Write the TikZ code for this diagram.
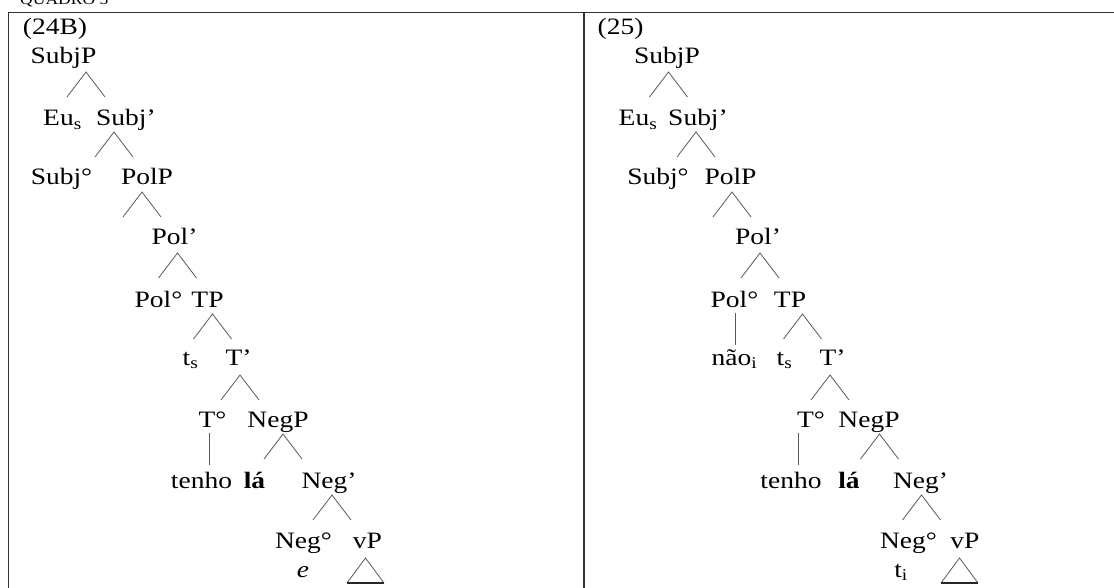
\documentclass[tikz,border=0pt]{standalone}
\usepackage{fontspec}
\setmainfont{Liberation Serif}[FakeStretch=1.17]
\begin{document}
\begin{tikzpicture}[x=1pt,y=-1pt,
  lbl/.style={inner sep=0pt, anchor=base, font=\fontsize{23.5}{28}\selectfont},
  head/.style={inner sep=0pt, anchor=base west, font=\fontsize{15}{18}\selectfont},
  branch/.style={draw=black!65, line width=0.8pt},
  rule/.style={draw=black!85, line width=1.7pt},
  frame/.style={draw=black!80, line width=1.5pt},
  fork/.pic={\draw[branch] (-19,25) -- (0,0) -- (19,25);},
  stem/.pic={\draw[branch] (0,0) -- (0,32);},
  roof/.pic={\draw[branch] (-18.5,25) -- (0,0) -- (18.5,25);
             \draw[rule] (-18.5,25) -- (18.5,25);}
]
\useasboundingbox (0,0) rectangle (1114,588);
\clip (0,0) rectangle (1114,588);

% table frame
\draw[frame] (8.3,600) -- (8.3,12.3) -- (1120,12.3);
\draw[frame] (584,12.3) -- (584,600);
\node[head] (title) at (20,5) {QUADRO 5};

% ---------- tree (24B) ----------
\node[lbl] (ex1)     at (55,35)    {(24B)};
\node[lbl] (a-SubjP) at (63.5,64)  {SubjP};
\pic at (86,72) {fork};
\node[lbl] (a-Eu)    at (62.5,126) {Eu\textsubscript{s}};
\node[lbl] (a-Subj1) at (126,126)  {Subj’};
\pic at (114,132) {fork};
\node[lbl] (a-Subj0) at (61.5,185) {Subj°};
\node[lbl] (a-PolP)  at (147,185)  {PolP};
\pic at (142,192) {fork};
\node[lbl] (a-Pol1)  at (174.5,245) {Pol’};
\pic at (177.5,253) {fork};
\node[lbl] (a-Pol0)  at (158.5,307) {Pol°};
\node[lbl] (a-TP)    at (207.5,307) {TP};
\pic at (212.5,314) {fork};
\node[lbl] (a-ts)    at (190.5,365) {t\textsubscript{s}};
\node[lbl] (a-T1)    at (238.5,365) {T’};
\pic at (240,375) {fork};
\node[lbl] (a-T0)    at (212.5,427) {T°};
\node[lbl] (a-NegP)  at (278,427)   {NegP};
\pic at (209,433) {stem};
\pic at (283,434) {fork};
\node[lbl] (a-tenho) at (201.5,488) {tenho};
\node[lbl] (a-la)    at (254.5,488) {\textbf{lá}};
\node[lbl] (a-Neg1)  at (329,488)   {Neg’};
\pic at (332,495) {fork};
\node[lbl] (a-Neg0)  at (303.5,548) {Neg°};
\node[lbl] (a-vP)    at (367.5,548) {vP};
\node[lbl] (a-e)     at (303,577)   {\textit{e}};
\pic at (365.5,558) {roof};

% ---------- tree (25) ----------
\node[lbl] (ex2)     at (620.5,35)  {(25)};
\node[lbl] (b-SubjP) at (667,64)    {SubjP};
\pic at (668.5,72) {fork};
\node[lbl] (b-Eu)    at (638,126)   {Eu\textsubscript{s}};
\node[lbl] (b-Subj1) at (698,126)   {Subj’};
\pic at (696,132) {fork};
\node[lbl] (b-Subj0) at (658,185)   {Subj°};
\node[lbl] (b-PolP)  at (730.5,185) {PolP};
\pic at (732,192) {fork};
\node[lbl] (b-Pol1)  at (758,245)   {Pol’};
\pic at (760,253) {fork};
\node[lbl] (b-Pol0)  at (734.5,307) {Pol°};
\node[lbl] (b-TP)    at (790,307)   {TP};
\pic at (735,313) {stem};
\pic at (802.5,314) {fork};
\node[lbl] (b-nao)   at (734.5,365) {não\textsubscript{i}};
\node[lbl] (b-ts)    at (784.5,365) {t\textsubscript{s}};
\node[lbl] (b-T1)    at (832.5,365) {T’};
\pic at (830,375) {fork};
\node[lbl] (b-T0)    at (811,427)   {T°};
\node[lbl] (b-NegP)  at (869,427)   {NegP};
\pic at (798,433) {stem};
\pic at (879.5,434) {fork};
\node[lbl] (b-tenho) at (791,488)   {tenho};
\node[lbl] (b-la)    at (849,488)   {\textbf{lá}};
\node[lbl] (b-Neg1)  at (920.5,488) {Neg’};
\pic at (921.5,495) {fork};
\node[lbl] (b-Neg0)  at (908.5,548) {Neg°};
\node[lbl] (b-vP)    at (965,548)   {vP};
\node[lbl] (b-ti)    at (901,577)   {t\textsubscript{i}};
\pic at (959.5,558) {roof};
\end{tikzpicture}
\end{document}
